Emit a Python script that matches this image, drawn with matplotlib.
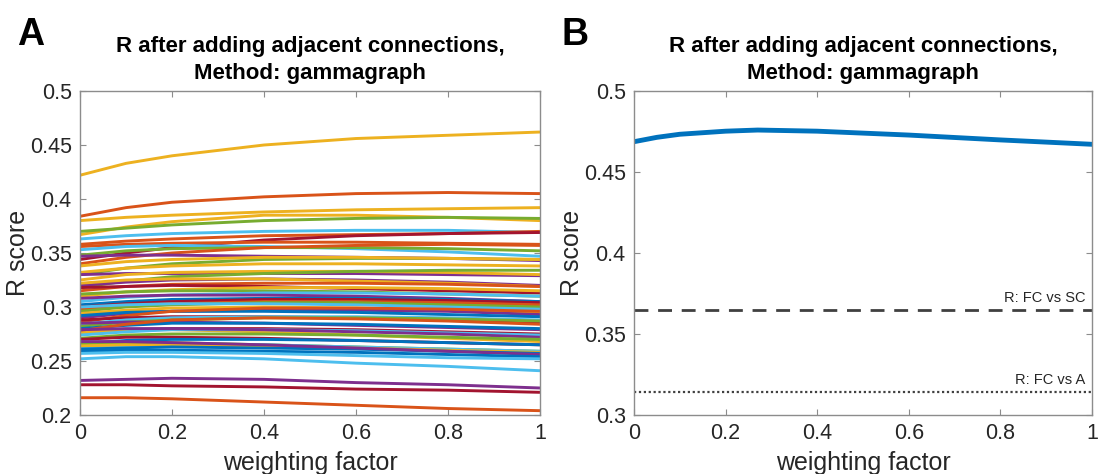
import numpy as np
import matplotlib
matplotlib.use("Agg")
import matplotlib.pyplot as plt

plt.rcParams['font.family'] = ['Liberation Sans', 'DejaVu Sans']

# MATLAB default colour order
MCOL = {'B': '#0072BD', 'O': '#D95319', 'Y': '#EDB120', 'P': '#7E2F8E',
        'G': '#77AC30', 'C': '#4DBEEE', 'R': '#A2142F'}

# Panel A: R score per subject at these weighting factors
X_A = [0, 0.1, 0.2, 0.4, 0.6, 0.8, 1.0]
R_LINES = [
    [.422, .433, .440, .450, .456, .459, .462],
    [.384, .392, .397, .402, .405, .406, .405],
    [.380, .383, .385, .388, .390, .391, .392],
    [.367, .374, .379, .385, .385, .383, .380],
    [.370, .373, .376, .380, .382, .383, .382],
    [.363, .366, .368, .370, .371, .371, .369],
    [.358, .361, .363, .366, .367, .368, .370],
    [.344, .350, .355, .362, .366, .368, .369],
    [.356, .358, .359, .360, .360, .359, .358],
    [.353, .356, .357, .356, .354, .351, .347],
    [.348, .352, .354, .355, .355, .354, .352],
    [.340, .346, .350, .355, .357, .358, .357],
    [.347, .348, .348, .347, .346, .345, .343],
    [.330, .336, .340, .344, .345, .345, .344],
    [.338, .342, .344, .346, .346, .345, .344],
    [.332, .336, .338, .340, .340, .339, .338],
    [.330, .331, .331, .331, .331, .330, .329],
    [.325, .330, .332, .333, .333, .332, .330],
    [.318, .324, .328, .331, .333, .334, .334],
    [.320, .323, .325, .326, .325, .323, .320],
    [.322, .325, .326, .326, .324, .322, .319],
    [.315, .319, .321, .322, .322, .321, .319],
    [.318, .319, .320, .319, .317, .315, .313],
    [.310, .314, .316, .318, .318, .317, .315],
    [.312, .314, .315, .315, .314, .312, .310],
    [.305, .309, .311, .313, .313, .312, .310],
    [.308, .310, .311, .311, .310, .308, .305],
    [.302, .305, .307, .308, .308, .307, .305],
    [.300, .303, .305, .307, .307, .306, .304],
    [.298, .301, .303, .305, .305, .304, .302],
    [.296, .300, .302, .304, .304, .302, .300],
    [.300, .302, .303, .303, .302, .300, .298],
    [.294, .297, .299, .300, .299, .297, .295],
    [.290, .294, .296, .297, .297, .296, .293],
    [.292, .295, .296, .296, .295, .293, .291],
    [.286, .292, .296, .299, .299, .298, .296],
    [.288, .290, .291, .291, .290, .288, .286],
    [.284, .288, .290, .291, .291, .290, .288],
    [.282, .286, .288, .290, .290, .289, .287],
    [.285, .286, .286, .285, .283, .281, .279],
    [.280, .283, .285, .285, .284, .282, .280],
    [.278, .284, .288, .290, .289, .287, .284],
    [.276, .279, .280, .280, .279, .277, .275],
    [.276, .279, .279, .277, .274, .271, .268],
    [.274, .277, .279, .279, .278, .276, .274],
    [.279, .280, .280, .279, .277, .275, .272],
    [.271, .274, .275, .275, .274, .272, .270],
    [.270, .272, .272, .271, .269, .267, .265],
    [.266, .269, .270, .270, .269, .267, .265],
    [.266, .267, .267, .265, .263, .261, .259],
    [.262, .264, .265, .265, .263, .261, .259],
    [.264, .265, .265, .264, .262, .260, .258],
    [.261, .262, .263, .262, .261, .259, .257],
    [.268, .268, .267, .265, .262, .259, .256],
    [.259, .260, .260, .259, .258, .256, .254],
    [.257, .258, .258, .257, .255, .253, .252],
    [.252, .254, .254, .252, .248, .245, .241],
    [.232, .233, .234, .233, .230, .228, .225],
    [.228, .228, .227, .226, .224, .223, .221],
    [.216, .216, .215, .212, .209, .206, .204],
]
LINE_COLORS = ['Y', 'O', 'Y', 'Y', 'G', 'C', 'O', 'R', 'O', 'C',
               'G', 'O', 'P', 'G', 'Y', 'Y', 'P', 'Y', 'G', 'P',
               'Y', 'O', 'R', 'Y', 'G', 'C', 'P', 'B', 'R', 'O',
               'G', 'C', 'Y', 'P', 'B', 'O', 'R', 'C', 'G', 'P',
               'B', 'O', 'R', 'Y', 'C', 'P', 'G', 'R', 'B', 'G',
               'C', 'Y', 'B', 'P', 'B', 'C', 'C', 'P', 'R', 'O']

# Panel B: mean R score vs weighting factor
X_B = [0, 0.05, 0.1, 0.2, 0.27, 0.4, 0.6, 0.8, 1.0]
R_MEAN = [0.4687, 0.4714, 0.4733, 0.4752, 0.4759, 0.4752, 0.4728, 0.4698, 0.4671]
R_FC_SC = 0.365
R_FC_A = 0.3145

TITLE = "R after adding adjacent connections,\nMethod: gammagraph"
TXT = '#262626'
AX_COL = '#8c8c8c'


def style_axes(ax, yticks, ylabels):
    ax.set_xlim(0, 1)
    ax.set_xticks([0, 0.2, 0.4, 0.6, 0.8, 1])
    ax.set_xticklabels(['0', '0.2', '0.4', '0.6', '0.8', '1'])
    ax.set_yticks(yticks)
    ax.set_yticklabels(ylabels)
    ax.tick_params(direction='in', length=4, width=0.8, top=True, right=True,
                   labelsize=15.5, colors=AX_COL, labelcolor=TXT, pad=6)
    for s in ax.spines.values():
        s.set_color(AX_COL)
        s.set_linewidth(1.0)
    ax.set_xlabel("weighting factor", fontsize=18, color=TXT, labelpad=5)
    ax.set_ylabel("R score", fontsize=18, color=TXT, labelpad=0)
    ax.set_title(TITLE, fontsize=16, fontweight='bold', color='black',
                 pad=9, linespacing=1.35)


fig = plt.figure(figsize=(10.98, 4.74), dpi=100)
axA = fig.add_axes([80 / 1098, 59 / 474, 460 / 1098, 324 / 474])
axB = fig.add_axes([634 / 1098, 59 / 474, 458 / 1098, 324 / 474])

for vals, c in zip(R_LINES, LINE_COLORS):
    axA.plot(X_A, vals, color=MCOL[c], lw=2.1, solid_capstyle='butt')
axA.set_ylim(0.2, 0.5)
style_axes(axA, [0.2, 0.25, 0.3, 0.35, 0.4, 0.45, 0.5],
           ['0.2', '0.25', '0.3', '0.35', '0.4', '0.45', '0.5'])

axB.plot(X_B, R_MEAN, color='#0072BD', lw=3.5)
axB.axhline(R_FC_SC, color='#404040', lw=2.0, ls=(0, (5, 3.5)))
axB.axhline(R_FC_A, color='#404040', lw=1.6, ls=(0, (1, 1.2)))
axB.text(0.985, R_FC_SC + 0.003, "R: FC vs SC", ha='right', va='bottom',
         fontsize=10.5, color=TXT)
axB.text(0.985, R_FC_A + 0.003, "R: FC vs A", ha='right', va='bottom',
         fontsize=10.5, color=TXT)
axB.set_ylim(0.3, 0.5)
style_axes(axB, [0.3, 0.35, 0.4, 0.45, 0.5],
           ['0.3', '0.35', '0.4', '0.45', '0.5'])

fig.text(17 / 1098, 1 - 45 / 474, "A", fontsize=27, fontweight='bold',
         va='baseline', ha='left')
fig.text(562 / 1098, 1 - 45 / 474, "B", fontsize=27, fontweight='bold',
         va='baseline', ha='left')

fig.savefig("out.png", dpi=100)
